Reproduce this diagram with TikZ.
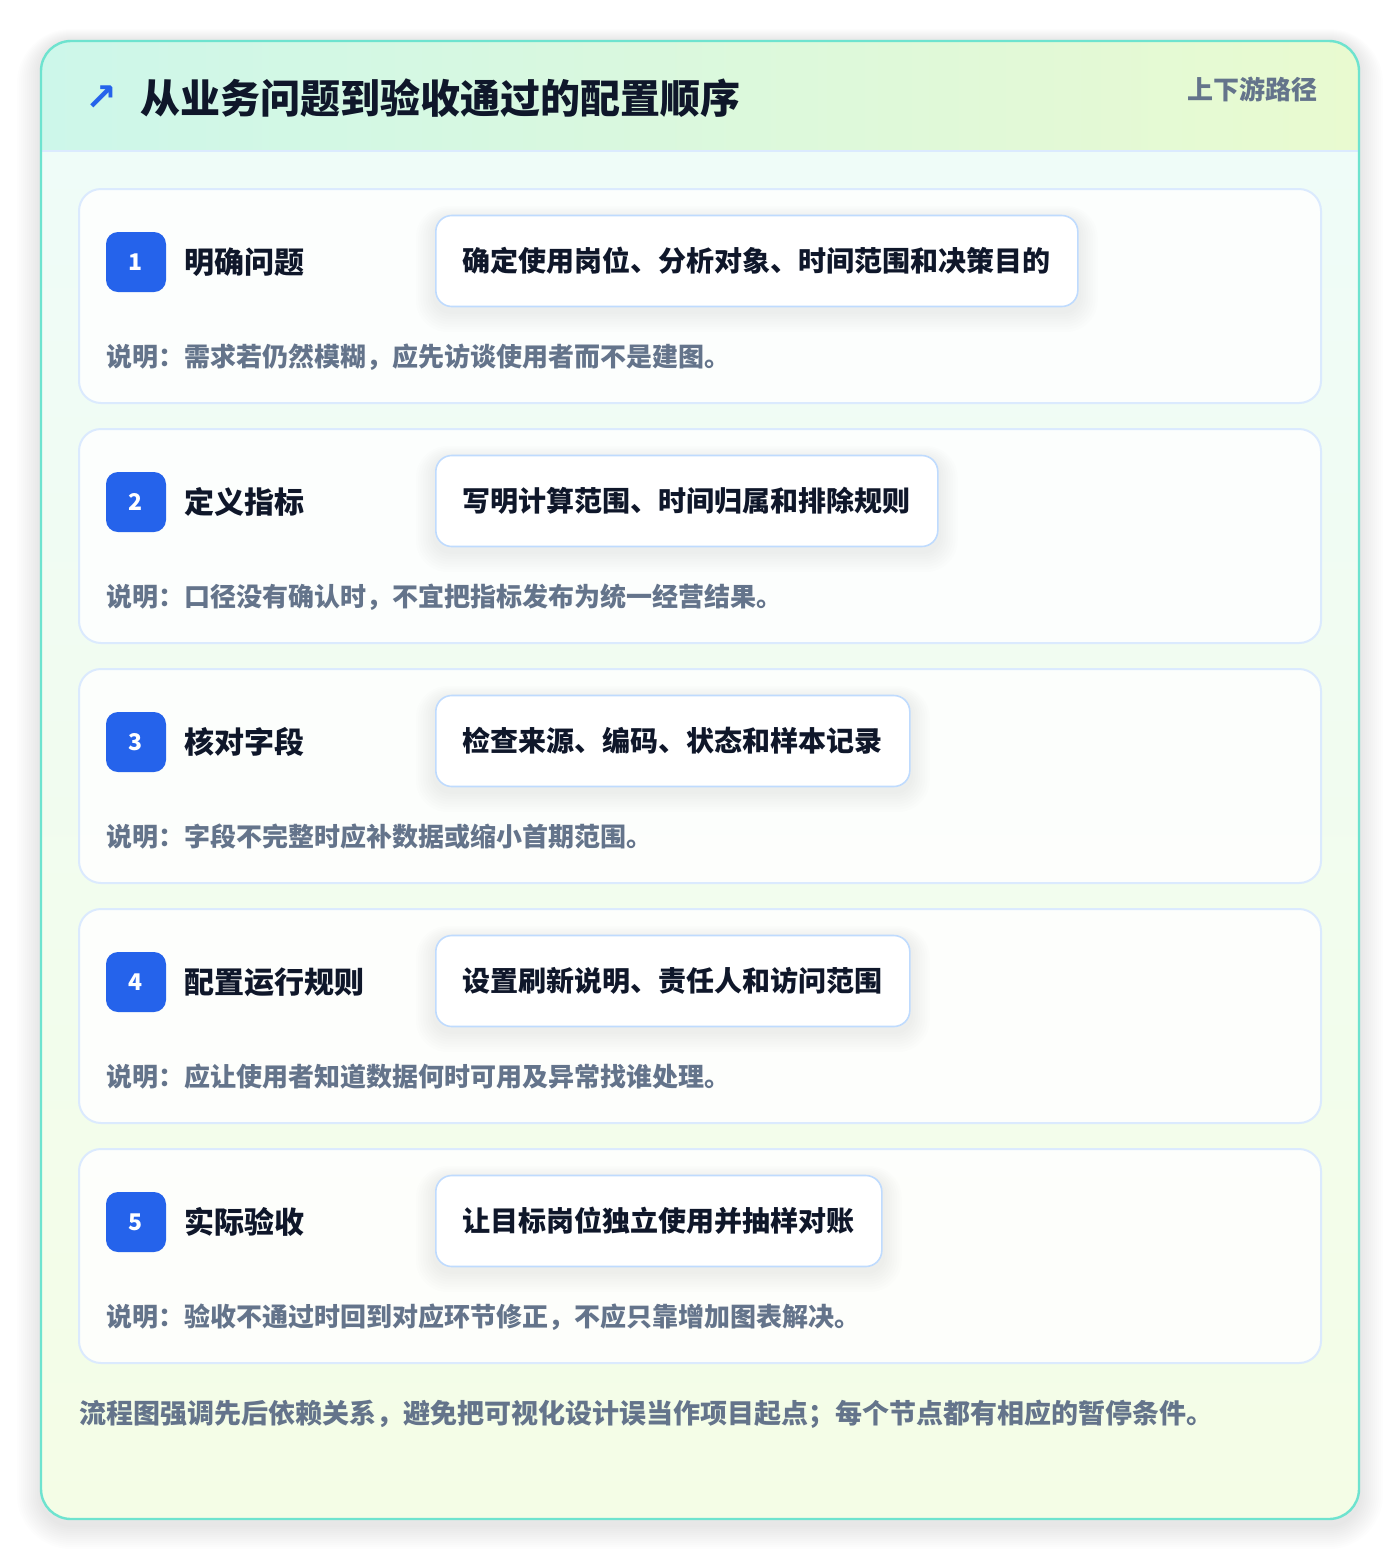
\documentclass[tikz,border=0pt]{standalone}
\usepackage{fontspec}
\setmainfont{Noto Sans CJK SC}
\newfontfamily\symfont{DejaVu Sans}
\usetikzlibrary{positioning}

\definecolor{brand}{HTML}{2563EB}
\definecolor{ink}{HTML}{0F172A}
\definecolor{muted}{HTML}{64748B}
\definecolor{frame}{HTML}{6EE3CF}
\definecolor{hdrL}{HTML}{CDF7EA}
\definecolor{hdrR}{HTML}{E9FAD0}
\definecolor{bodyT}{HTML}{EFFCF8}
\definecolor{bodyB}{HTML}{F4FDE6}
\definecolor{cardline}{HTML}{DBEAFE}
\definecolor{boxline}{HTML}{BFDBFE}

\pgfdeclarelayer{back}
\pgfdeclarelayer{haze}
\pgfsetlayers{back,haze,main}

\tikzstyle{card} = [rectangle, rounded corners=11pt, minimum width=621pt, minimum height=107pt, draw=cardline, line width=1pt, fill=white, fill opacity=0.85]
\tikzstyle{badge} = [rectangle, rounded corners=6pt, minimum size=30pt, inner sep=0pt, fill=brand, text=white, font=\bfseries\fontsize{11.5}{13}\selectfont]
\tikzstyle{stepname} = [anchor=west, inner sep=0pt, text=ink, font=\bfseries\fontsize{15}{18}\selectfont]
\tikzstyle{detail} = [rectangle, rounded corners=8pt, minimum height=45.5pt, inner xsep=13.5pt, draw=boxline, line width=0.8pt, fill=white, text=ink, font=\bfseries\fontsize{14}{17}\selectfont]
\tikzstyle{remark} = [anchor=west, inner sep=0pt, text=muted, font=\bfseries\fontsize{13}{16}\selectfont]
\tikzstyle{haze} = [black, opacity=0.006]

\begin{document}
\begin{tikzpicture}[x=0.5pt, y=-0.5pt]
		\useasboundingbox (0,0) rectangle (1400,1560);

		% outer panel with soft shadow
		\begin{pgfonlayer}{back}
			\fill[white] (0,0) rectangle (1400,1560);
			\foreach \d in {1,...,12}{
				\pgfmathsetmacro\r{15+\d}
				\fill[haze, rounded corners=\r pt] (41-2*\d,41-\d) rectangle (1359+2*\d,1519+2*\d+6);
			}
			\fill[white, rounded corners=15pt] (41,41) rectangle (1359,1519);
			\begin{scope}
				\clip[rounded corners=15pt] (41,41) rectangle (1359,1519);
				\shade[top color=bodyT, bottom color=bodyB] (41,151) rectangle (1359,1519);
				\shade[left color=hdrL, right color=hdrR] (41,41) rectangle (1359,151);
			\end{scope}
			\draw[cardline, line width=1pt] (41,151) -- (1359,151);
			\draw[frame, line width=1.2pt, rounded corners=15pt] (41,41) rectangle (1359,1519);
		\end{pgfonlayer}

		% header
		\node (icon) [text=brand, font=\symfont\bfseries\fontsize{19}{19}\selectfont] at (101,98) {↗};
		\node (title) [anchor=west, inner sep=0pt, text=ink, font=\bfseries\fontsize{20}{24}\selectfont] at (140,98) {从业务问题到验收通过的配置顺序};
		\node (tag) [anchor=east, inner sep=0pt, text=muted, font=\bfseries\fontsize{13}{15}\selectfont] at (1318,89) {上下游路径};

		% steps
		\foreach \i/\name/\what/\why in {
			1/明确问题/确定使用岗位、分析对象、时间范围和决策目的/需求若仍然模糊，应先访谈使用者而不是建图。,
			2/定义指标/写明计算范围、时间归属和排除规则/口径没有确认时，不宜把指标发布为统一经营结果。,
			3/核对字段/检查来源、编码、状态和样本记录/字段不完整时应补数据或缩小首期范围。,
			4/配置运行规则/设置刷新说明、责任人和访问范围/应让使用者知道数据何时可用及异常找谁处理。,
			5/实际验收/让目标岗位独立使用并抽样对账/验收不通过时回到对应环节修正，不应只靠增加图表解决。}{
			\pgfmathsetmacro\top{189+240*(\i-1)}
			\begin{pgfonlayer}{back}
				\node (card\i) [card] at (700,\top+107) {};
			\end{pgfonlayer}
			\node (badge\i) [badge] at (136,\top+73) {\i};
			\node (step\i) [stepname, right=9pt of badge\i] {\name};
			\node (box\i) [detail, anchor=west] at (435,\top+72) {\what};
			\node (note\i) [remark] at (106,\top+168) {说明：\why};
			% soft shadow under the box
			\begin{pgfonlayer}{haze}
				\foreach \d in {1,...,8}{
					\pgfmathsetmacro\r{8+\d}
					\fill[haze, rounded corners=\r pt] ([xshift=-1.2*\d pt, yshift=-1.3*\d pt-2pt]box\i.south west) rectangle ([xshift=1.2*\d pt, yshift=0.8*\d pt-2pt]box\i.north east);
				}
			\end{pgfonlayer}
		}

		% footer
		\node (footer) [remark, font=\bfseries\fontsize{13.5}{16}\selectfont] at (79,1414) {流程图强调先后依赖关系，避免把可视化设计误当作项目起点；每个节点都有相应的暂停条件。};
	  \end{tikzpicture}
\end{document}
